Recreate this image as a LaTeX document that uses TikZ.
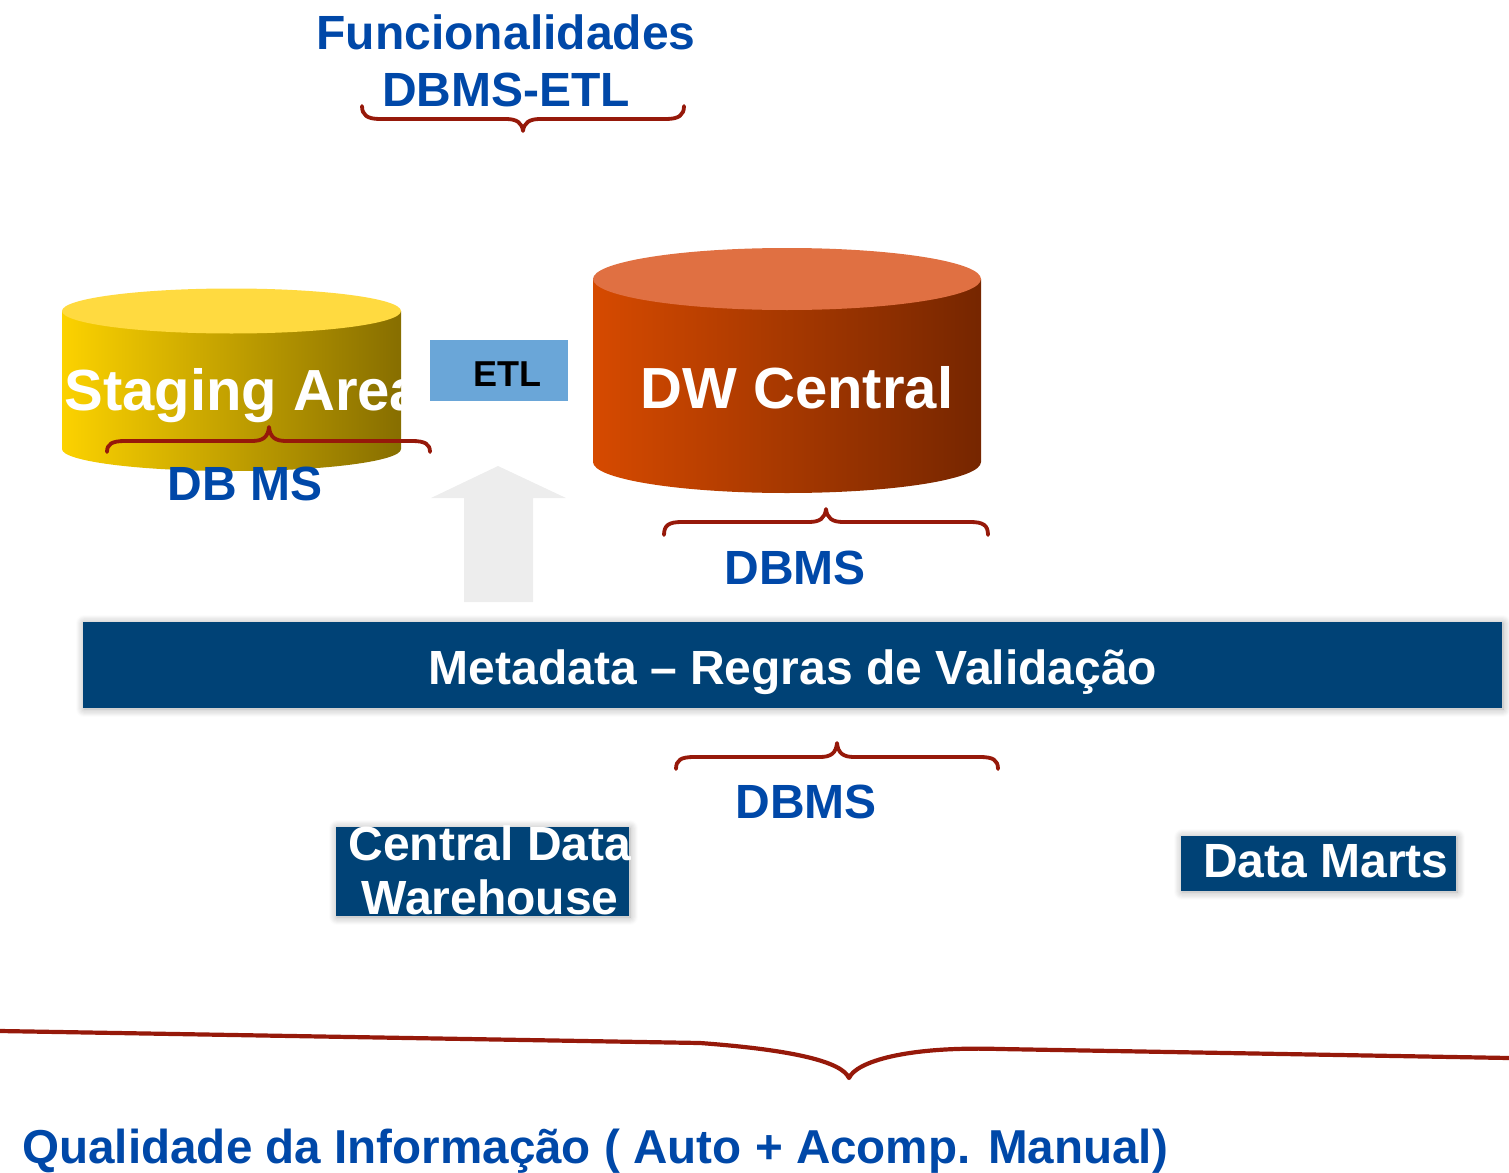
\documentclass[tikz,border=0pt]{standalone}
\usepackage{fontspec}
\setmainfont{Liberation Sans}
\usetikzlibrary{shadows.blur}
\definecolor{txtblue}{RGB}{0,72,168}
\definecolor{navy}{RGB}{0,66,118}
\definecolor{braceRed}{RGB}{150,25,10}
\definecolor{stagL}{RGB}{252,210,0}
\definecolor{stagR}{RGB}{135,110,0}
\definecolor{stagTop}{RGB}{255,218,64}
\definecolor{dwL}{RGB}{214,74,0}
\definecolor{dwR}{RGB}{118,38,0}
\definecolor{dwTop}{RGB}{224,112,66}
\definecolor{etlBlue}{RGB}{106,166,216}
\definecolor{arrowGray}{RGB}{237,237,237}
\begin{document}
\begin{tikzpicture}[x=0.5pt,y=-0.5pt,
  bluetxt/.style={text=txtblue, font=\fontsize{24}{28}\selectfont\bfseries, inner sep=0pt, anchor=base},
  whitetxt/.style={text=white, font=\fontsize{24}{28}\selectfont\bfseries, inner sep=0pt, anchor=base},
  bigwhite/.style={text=white, font=\fontsize{29}{33}\selectfont\bfseries, inner sep=0pt, anchor=base},
  bracepath/.style={draw=braceRed, line width=1.9pt, line cap=round, line join=round},
  navybox/.style={fill=navy, draw=none, inner sep=0pt, blur shadow={shadow xshift=0.5pt, shadow yshift=-0.5pt, shadow blur radius=4pt, shadow blur steps=8, shadow opacity=35}},
  ]
\useasboundingbox (0,0) rectangle (1509,1172);

% Title
\node[bluetxt] (t1) at (506,50) {Funcionalidades};
\node[bluetxt] (t2) at (506,106) {DBMS-ETL};
\path[bracepath] (362,106) .. controls (362,115) and (367,119) .. (380,119) -- (506,119)
  .. controls (517,119) and (522,123) .. (523,131) .. controls (524,123) and (529,119) .. (540,119)
  -- (666,119) .. controls (679,119) and (684,115) .. (684,106);

% Staging Area cylinder
\shade[left color=stagL, right color=stagR] (62,311) -- (62,449)
  arc[start angle=180, end angle=0, x radius=169.5, y radius=22] -- (401,311) -- cycle;
\fill[stagTop] (231.5,311) ellipse[x radius=169.5, y radius=22.5];
\begin{scope}
  \clip (0,250) rectangle (401,480);
  \node[bigwhite, anchor=base west] (stag) at (64,410) {Staging Area};
\end{scope}
\path[bracepath] (107,452) .. controls (107,444) and (112,441) .. (125,441) -- (252,441)
  .. controls (263,441) and (268,437) .. (269,427) .. controls (270,437) and (275,441) .. (286,441)
  -- (412,441) .. controls (425,441) and (430,444) .. (430,452);
\node[bluetxt] (dbms1) at (245,500) {DB MS};

% ETL box
\node[fill=etlBlue, minimum width=69pt, minimum height=30.5pt, inner sep=0pt] (etlbox) at (499,370.5) {};
\node[text=black, font=\fontsize{18}{20}\selectfont\bfseries, inner sep=0pt, anchor=base] (etl) at (507,386) {ETL};

% DW Central cylinder
\shade[left color=dwL, right color=dwR] (593,279) -- (593,462)
  arc[start angle=180, end angle=0, x radius=194, y radius=31] -- (981,279) -- cycle;
\fill[dwTop] (787,279) ellipse[x radius=194, y radius=31];
\node[bigwhite] (dw) at (797,408) {DW Central};
\path[bracepath] (664,535) .. controls (664,525) and (669,522) .. (682,522) -- (809,522)
  .. controls (820,522) and (825,518) .. (826,509) .. controls (827,518) and (832,522) .. (843,522)
  -- (970,522) .. controls (983,522) and (988,525) .. (988,535);
\node[bluetxt] (dbms2) at (795,584) {DBMS};

% Up arrow
\fill[arrowGray] (464,602) -- (464,498) -- (431,498) -- (498,466) -- (566,498) -- (533,498) -- (533,602) -- cycle;

% Metadata bar
\node[navybox, minimum width=709.5pt, minimum height=43pt] (meta) at (792.5,665) {};
\node[whitetxt] (metatxt) at (793,684) {Metadata -- Regras de Validação};

\path[bracepath] (676,769) .. controls (676,760) and (681,757) .. (694,757) -- (820,757)
  .. controls (831,757) and (836,753) .. (837,743) .. controls (838,753) and (843,757) .. (854,757)
  -- (980,757) .. controls (993,757) and (998,760) .. (998,769);
\node[bluetxt] (dbms3) at (806,818) {DBMS};

% Central Data Warehouse
\node[navybox, minimum width=146.5pt, minimum height=44.5pt] (cdwbox) at (482.5,871.5) {};
\node[whitetxt] (cdw1) at (490,860) {Central Data};
\node[whitetxt] (cdw2) at (490,914) {Warehouse};

% Data Marts
\node[navybox, minimum width=137.5pt, minimum height=27.5pt] (dmbox) at (1318.5,863.5) {};
\node[whitetxt] (dm) at (1326,877) {Data Marts};

% Bottom big brace
\path[draw=braceRed, line width=2.1pt, line join=round] (0,1031) -- (700,1043)
  .. controls (795,1050) and (842,1062) .. (849,1078)
  .. controls (856,1062) and (905,1046) .. (1000,1049) -- (1509,1058);

\node[text=txtblue, font=\fontsize{23.8}{28}\selectfont\bfseries, inner sep=0pt, anchor=base west] (qual) at (22,1163) {Qualidade da Informação ( Auto + Acomp. Manual)};
\end{tikzpicture}
\end{document}
